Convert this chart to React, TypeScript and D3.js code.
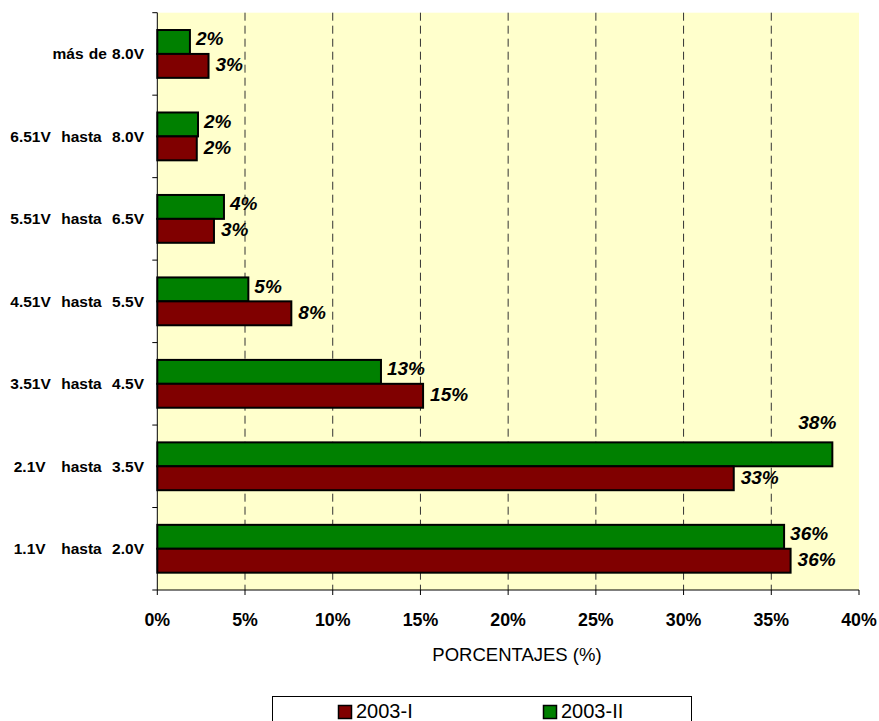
import React from "react";
import * as d3 from "d3";

const categories = [
  "más de 8.0V",
  "6.51V  hasta  8.0V",
  "5.51V  hasta  6.5V",
  "4.51V  hasta  5.5V",
  "3.51V  hasta  4.5V",
  "2.1V   hasta  3.5V",
  "1.1V   hasta  2.0V",
];
const series2003I = [2.92, 2.25, 3.23, 7.64, 15.15, 32.86, 36.1];
const series2003II = [1.86, 2.32, 3.8, 5.19, 12.75, 38.48, 35.73];
const labels2003I = ["3%", "2%", "3%", "8%", "15%", "33%", "36%"];
const labels2003II = ["2%", "2%", "4%", "5%", "13%", "38%", "36%"];
const xTicks = [0, 5, 10, 15, 20, 25, 30, 35, 40];
const seriesNames = ["2003-I", "2003-II"];
const colors = ["#800000", "#008000"];

export default function App() {
  const W = 879, H = 721;
  const left = 157.3, right = 859, top = 12.7, bottom = 590;
  const x = d3.scaleLinear().domain([0, 40]).range([left, right]);
  const y = d3.scaleBand().domain(categories).range([top, bottom]).paddingInner(0.42).paddingOuter(0.21);
  const bh = y.bandwidth() / 2;
  const step = y.step();
  const font = "Arial, 'Liberation Sans', sans-serif";

  return (
    <svg width={W} height={H} style={{ position: "absolute", left: 0, top: 0 }} fontFamily={font}>
      <rect x={left} y={top} width={right - left} height={bottom - top} fill="#FFFFCC" />
      {xTicks.slice(1, -1).map((t) => (
        <line key={t} x1={x(t)} x2={x(t)} y1={top} y2={bottom} stroke="#333" strokeDasharray="8,5" strokeWidth={1} />
      ))}
      {categories.map((c, i) => {
        const y0 = y(c)!;
        const g = series2003II[i];
        const r = series2003I[i];
        const gAbove = x(g) + 45 > right;
        return (
          <g key={c}>
            <rect x={x(0)} y={y0} width={x(g) - x(0)} height={bh} fill={colors[1]} stroke="#000" strokeWidth={2} />
            <rect x={x(0)} y={y0 + bh} width={x(r) - x(0)} height={bh} fill={colors[0]} stroke="#000" strokeWidth={2} />
            <text
              x={gAbove ? x(g) + 4 : x(g) + 6}
              y={gAbove ? y0 - 20 : y0 + bh / 2 - 3}
              textAnchor={gAbove ? "end" : "start"}
              dominantBaseline="central"
              fontWeight="bold"
              fontStyle="italic"
              fontSize={19}
            >
              {labels2003II[i]}
            </text>
            <text x={x(r) + 7} y={y0 + bh * 1.5 - 1} dominantBaseline="central" fontWeight="bold" fontStyle="italic" fontSize={19}>
              {labels2003I[i]}
            </text>
            <text x={144} y={y0 + bh + 5.5} textAnchor="end" fontWeight="bold" fontSize={15.5} wordSpacing={0.9} style={{ whiteSpace: "pre" }}>
              {c}
            </text>
          </g>
        );
      })}
      {d3.range(categories.length + 1).map((i) => (
        <line key={i} x1={left - 5} x2={left} y1={top + i * step} y2={top + i * step} stroke="#000" strokeWidth={1} />
      ))}
      <line x1={left} x2={left} y1={top} y2={bottom} stroke="#000" strokeWidth={1} />
      <line x1={left} x2={right} y1={bottom} y2={bottom} stroke="#000" strokeWidth={1} />
      {xTicks.map((t) => (
        <g key={t}>
          <line x1={x(t)} x2={x(t)} y1={bottom} y2={bottom + 5} stroke="#000" />
          <text x={x(t)} y={625.7} textAnchor="middle" fontWeight="bold" fontSize={17.8}>
            {t + "%"}
          </text>
        </g>
      ))}
      <text x={517} y={661} textAnchor="middle" fontSize={18.5}>
        PORCENTAJES (%)
      </text>
      <rect x={272.5} y={696.5} width={419} height={40} fill="#fff" stroke="#000" strokeWidth={1} />
      {seriesNames.map((s, i) => (
        <g key={s}>
          <rect x={338.5 + i * 205} y={705.5} width={13} height={13} fill={colors[i]} stroke="#000" strokeWidth={1.5} />
          <text x={356 + i * 205} y={718.3} fontSize={20}>
            {s}
          </text>
        </g>
      ))}
    </svg>
  );
}
